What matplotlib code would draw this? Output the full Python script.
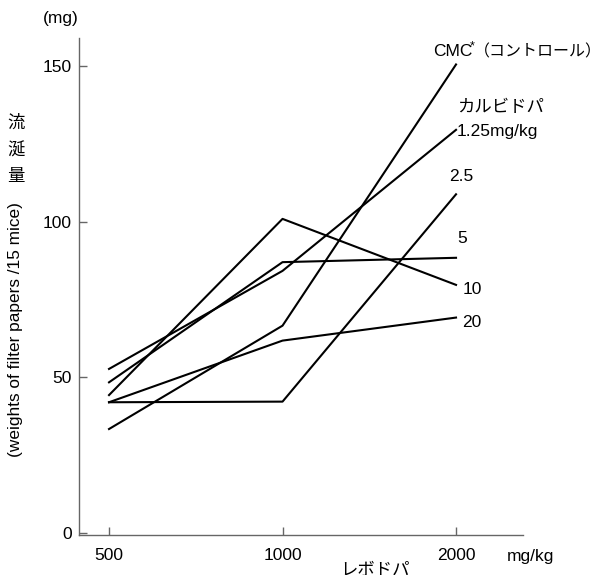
import matplotlib
matplotlib.use('Agg')
import matplotlib.pyplot as plt

plt.rcParams['font.family'] = ['Liberation Sans', 'Noto Sans CJK JP']

W, H = 596, 575

# levodopa dose (categorical x) and saliva weight (mg)
doses = ['500', '1000', '2000']
cmc = [33.4, 66.6, 150.5]
carbi_125 = [52.7, 84.2, 129.5]
carbi_25 = [42.0, 42.2, 108.8]
carbi_5 = [48.4, 87.0, 88.4]
carbi_10 = [44.3, 100.9, 79.7]
carbi_20 = [42.0, 61.8, 69.2]
yticks = [0, 50, 100, 150]

series = [cmc, carbi_125, carbi_25, carbi_5, carbi_10, carbi_20]
# end labels: (text, dx px, dy px)
labels = [
    ('2.5', -7, 18),
    ('5', 1, 19),
    ('10', 7, -5),
    ('20', 6, -5),
]

fig = plt.figure(figsize=(W / 100, H / 100), dpi=100)
ax = fig.add_axes([79 / W, 1 - 535 / H, (523 - 79) / W, (535 - 38) / H])

x = list(range(len(doses)))
for ys in series:
    ax.plot(x, ys, color='black', lw=1.5)

ax.set_xlim(-0.173, 2.386)
ax.set_ylim(-0.64, 159)
ax.set_xticks(x)
ax.set_xticklabels(doses)
ax.set_yticks(yticks)
for s in ['top', 'right']:
    ax.spines[s].set_visible(False)
for s in ['left', 'bottom']:
    ax.spines[s].set_color('#666666')
    ax.spines[s].set_linewidth(1.0)
ax.tick_params(direction='in', length=6, width=1, color='#666666', labelsize=12.5)
ax.tick_params(axis='y', pad=5)
ax.tick_params(axis='x', pad=9)

# series labels at the 2000 end
for (txt, dx, dy), ys in zip(labels, [carbi_25, carbi_5, carbi_10, carbi_20]):
    ax.annotate(txt, xy=(2, ys[2]), xytext=(dx, dy), textcoords='offset pixels',
                ha='left', va='center', fontsize=12.5)

ax.annotate('CMC', xy=(2, cmc[2]), xytext=(-23, 13), textcoords='offset pixels',
            ha='left', va='center', fontsize=12.5)
ax.annotate('*', xy=(2, cmc[2]), xytext=(14, 18), textcoords='offset pixels',
            ha='left', va='center', fontsize=9)
ax.annotate('（コントロール）', xy=(2, cmc[2]), xytext=(18, 13), textcoords='offset pixels',
            ha='left', va='center', fontsize=11.5)
ax.annotate('カルビドパ', xy=(2, carbi_125[2]), xytext=(1, 22), textcoords='offset pixels',
            ha='left', va='center', fontsize=12.5)
ax.annotate('1.25mg/kg', xy=(2, carbi_125[2]), xytext=(1, -2), textcoords='offset pixels',
            ha='left', va='center', fontsize=12.5)

# axis texts
fig.text(61 / W, 1 - 18 / H, '(mg)', ha='center', va='center', fontsize=12.5)
for i, ch in enumerate('流涎量'):
    fig.text(16 / W, 1 - (123 + 27 * i) / H, ch, ha='center', va='center', fontsize=12.5)
fig.text(16 / W, 1 - 330 / H, '(weights of filter papers /15 mice)', rotation=90,
         ha='center', va='center', fontsize=12.4)
fig.text(530 / W, 1 - 557 / H, 'mg/kg', ha='center', va='center', fontsize=12.5)
fig.text(375 / W, 1 - 563 / H, 'レボドパ', ha='center', va='top', fontsize=12.5)

fig.savefig('out.png', dpi=100)
